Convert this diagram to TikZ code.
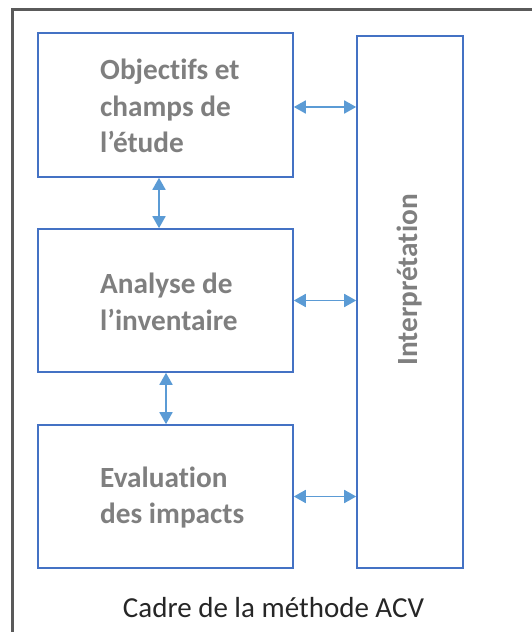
\documentclass[tikz,border=0pt]{standalone}
\usepackage{fontspec}
\setmainfont{Carlito}[Ligatures=NoCommon]
\usetikzlibrary{arrows.meta}

\definecolor{boxblue}{HTML}{4472C4}
\definecolor{arrowblue}{HTML}{5B9BD5}
\definecolor{textgray}{HTML}{7F7F7F}
\definecolor{framegray}{HTML}{5A5A5A}

\begin{document}
\begin{tikzpicture}[x=1pt,y=1pt,
    stage/.style={draw=boxblue,line width=1.6pt,minimum width=255pt,minimum height=143pt,inner sep=0pt},
    lbl/.style={anchor=west,align=left,text=textgray,font=\fontsize{29.3}{36.5}\selectfont\bfseries,inner sep=0pt},
    link/.style={{Triangle[length=12pt,width=13pt]}-{Triangle[length=12pt,width=13pt]},draw=arrowblue,line width=1.8pt}]
  \useasboundingbox (0,0) rectangle (532,632);
  % frame
  \draw[framegray,line width=3pt] (12,0) -- (12,622) -- (532,622);
  % stages
  \node[stage,minimum height=144pt] (obj) at (165.5,527) {};
  \node[stage] (inv) at (165.5,331.5) {};
  \node[stage] (imp) at (165.5,135.5) {};
  \node[draw=boxblue,line width=1.6pt,minimum width=106pt,minimum height=532pt,inner sep=0pt] (interp) at (410,330) {};
  \node[lbl] (objtxt) at (100,526) {Objectifs et\\champs de\\l’étude};
  \node[lbl] (invtxt) at (100,330) {Analyse de\\l’inventaire};
  \node[lbl] (imptxt) at (100,134.5) {Evaluation\\des impacts};
  \node[lbl,anchor=center,rotate=90] (interptxt) at (410,352) {Interprétation};
  % links
  \draw[link] ([xshift=-6.5pt]obj.south) -- ([xshift=-6.5pt]inv.north);
  \draw[link] ([xshift=0.5pt]inv.south) -- ([xshift=0.5pt]imp.north);
  \draw[link] ([yshift=-2pt]obj.east) -- ([yshift=-2pt]obj.east -| interp.west);
  \draw[link] (inv.east) -- (inv.east -| interp.west);
  \draw[link] (imp.east) -- (imp.east -| interp.west);
  \node[font=\fontsize{29}{34}\selectfont,text=black!85] (caption) at (273.5,24) {Cadre de la méthode ACV};
\end{tikzpicture}
\end{document}
